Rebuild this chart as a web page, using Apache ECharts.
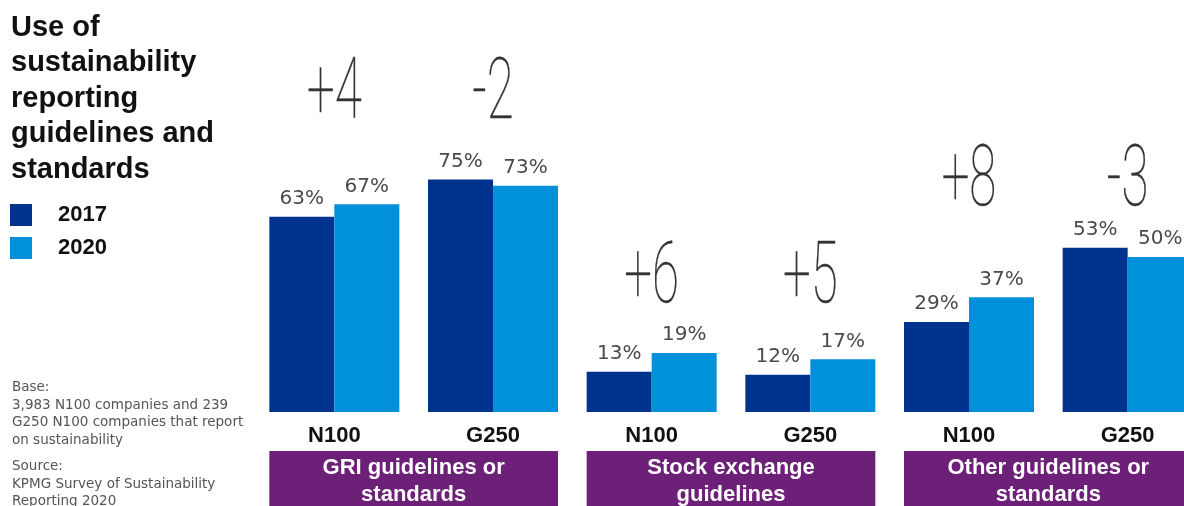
<!DOCTYPE html>
<html>
<head>
<meta charset="utf-8">
<title>Use of sustainability reporting guidelines and standards</title>
<script src="https://cdn.jsdelivr.net/npm/echarts@6/dist/echarts.min.js"></script>
<style>
html, body { margin: 0; padding: 0; background: #fff; overflow: hidden; }
/* a little wider than the window: the last bar runs off the right edge */
#chart { width: 1212px; height: 506px; }
</style>
</head>
<body>
<div id="chart"></div>
<script>
// values
var categories = ['N100', 'G250', 'N100', 'G250', 'N100', 'G250'];
var groups = ['GRI guidelines or\nstandards', 'Stock exchange\nguidelines', 'Other guidelines or\nstandards'];
var values2017 = [63, 75, 13, 12, 29, 53];
var values2020 = [67, 73, 19, 17, 37, 50];
var deltas = ['+4', '-2', '+6', '+5', '+8', '-3'];

// where the big change numbers sit (in % units), one per group
var deltaLevel = [101.8, 42.4, 73.5];

var navy = '#00338d', blue = '#0091da', purple = '#6d2077';
var barW = 65;

var chart = echarts.init(document.getElementById('chart'));

var deltaData = deltas.map(function (d, i) {
    return [i, deltaLevel[Math.floor(i / 2)]];
});
var groupData = groups.map(function (g, i) { return [i * 2, 0]; });

function pctLabel() {
    return {
        show: true,
        position: 'top',
        distance: 8,
        formatter: '{c}%',
        fontFamily: 'DejaVu Sans',
        fontSize: 20,
        color: '#4a4a4a'
    };
}

function deltaItem(params, api) {
    var p = api.coord([api.value(0), api.value(1)]);
    return {
        type: 'text',
        x: p[0],
        y: p[1],
        scaleX: 0.58,
        silent: true,
        style: {
            text: deltas[params.dataIndex],
            font: '100 85px Roboto',
            fill: '#333',
            stroke: '#333',
            lineWidth: 0.4,
            align: 'center', textAlign: 'center',
            verticalAlign: 'middle', textVerticalAlign: 'middle'
        }
    };
}

function groupItem(params, api) {
    var a = api.coord([api.value(0), 0]);
    var b = api.coord([api.value(0) + 1, 0]);
    var x0 = a[0] - barW, x1 = b[0] + barW;
    var top = a[1] + 39;
    return {
        type: 'group',
        children: [{
            type: 'rect',
            shape: { x: x0, y: top, width: x1 - x0, height: 80 },
            style: { fill: purple }
        }, {
            type: 'text',
            x: (x0 + x1) / 2,
            y: top + 3,
            style: {
                text: groups[params.dataIndex],
                font: 'bold 22px "Liberation Sans", Arial, sans-serif',
                lineHeight: 27,
                fill: '#fff',
                align: 'center', textAlign: 'center',
                verticalAlign: 'top', textVerticalAlign: 'top'
            }
        }]
    };
}

chart.setOption({
    animation: false,
    title: [{
        text: 'Use of\nsustainability\nreporting\nguidelines and\nstandards',
        left: 11,
        top: 10,
        padding: 0,
        textStyle: {
            fontFamily: 'Liberation Sans',
            fontSize: 29,
            fontWeight: 'bold',
            lineHeight: 35.5,
            color: '#111'
        }
    }, {
        text: 'Base:\n3,983 N100 companies and 239\nG250 N100 companies that report\non sustainability',
        left: 12,
        top: 379,
        padding: 0,
        textStyle: {
            fontFamily: 'DejaVu Sans',
            fontSize: 13.5,
            fontWeight: 'normal',
            lineHeight: 17.5,
            color: '#555'
        }
    }, {
        text: 'Source:\nKPMG Survey of Sustainability\nReporting 2020',
        left: 12,
        top: 458,
        padding: 0,
        textStyle: {
            fontFamily: 'DejaVu Sans',
            fontSize: 13.5,
            fontWeight: 'normal',
            lineHeight: 17.5,
            color: '#555'
        }
    }],
    legend: {
        data: ['2017', '2020'],
        orient: 'vertical',
        left: 10,
        top: 204,
        padding: 0,
        itemWidth: 22,
        itemHeight: 22,
        itemGap: 11,
        icon: 'rect',
        selectedMode: false,
        textStyle: {
            fontFamily: 'Liberation Sans',
            fontSize: 22,
            fontWeight: 'bold',
            color: '#111',
            padding: [0, 0, 0, 21]
        }
    },
    grid: { left: 255, top: 102, right: 5, bottom: 94 },
    xAxis: {
        type: 'category',
        data: categories,
        axisLine: { show: false },
        axisTick: { show: false },
        axisLabel: {
            margin: 13,
            fontFamily: 'Liberation Sans',
            fontSize: 22,
            fontWeight: 'bold',
            color: '#111'
        }
    },
    yAxis: { type: 'value', min: 0, max: 100, show: false },
    series: [{
        name: '2017',
        type: 'bar',
        data: values2017,
        barWidth: barW,
        barGap: '0%',
        itemStyle: { color: navy },
        label: pctLabel()
    }, {
        name: '2020',
        type: 'bar',
        data: values2020,
        barWidth: barW,
        barGap: '0%',
        itemStyle: { color: blue },
        label: pctLabel()
    }, {
        type: 'custom',
        data: deltaData,
        renderItem: deltaItem,
        clip: false,
        silent: true,
        z: 5
    }, {
        type: 'custom',
        data: groupData,
        renderItem: groupItem,
        clip: false,
        silent: true
    }]
});
</script>
</body>
</html>
